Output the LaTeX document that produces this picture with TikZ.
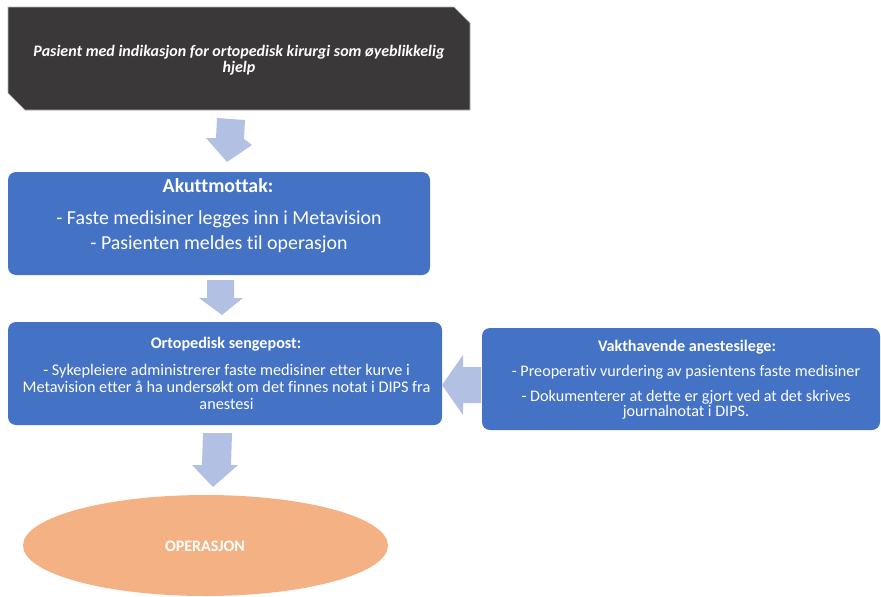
\documentclass[tikz,border=0pt]{standalone}
\usepackage{fontspec}
\setmainfont{Carlito}[Ligatures=NoCommon]
\usetikzlibrary{shapes.geometric}
\definecolor{darkbox}{RGB}{58,56,56}
\definecolor{bluebox}{RGB}{68,114,196}
\definecolor{arrowc}{RGB}{178,192,228}
\definecolor{orangeov}{RGB}{244,177,131}
\begin{document}
\begin{tikzpicture}[x=0.75pt,y=-0.75pt,
  bbox/.style={draw=none,fill=bluebox,rounded corners=6pt,inner sep=0pt},
  blockarrow/.style={fill=arrowc,draw=none},
  wtext/.style={text=white,anchor=base,inner sep=0pt},
  bigtxt/.style={font=\fontsize{14.9}{17}\selectfont},
  bigbold/.style={font=\fontsize{14.9}{17}\selectfont\bfseries},
  midtxt/.style={font=\fontsize{12.2}{14}\selectfont},
  vtxt/.style={font=\fontsize{12.1}{14}\selectfont},
  midbold/.style={font=\fontsize{12.1}{14}\selectfont\bfseries},
  toptxt/.style={font=\fontsize{12}{14}\selectfont\bfseries\itshape},
]
\useasboundingbox (0,0) rectangle (881,596);

% top chamfered box
\path[fill=darkbox,draw=gray!60,line width=0.4pt] (8,7) -- (454,7) -- (470,23) -- (470,110) -- (25,110) -- (8,93) -- cycle;
\node[wtext,toptxt] (t1) at (239,56.5) {Pasient med indikasjon for ortopedisk kirurgi som øyeblikkelig};
\node[wtext,toptxt] (t2) at (239,72.5) {hjelp};

% Akuttmottak box
\node[bbox,minimum width=316.5pt,minimum height=77.25pt] (akutt) at (219,223.5) {};
\node[wtext,bigbold] (a1) at (218,192.7) {Akuttmottak:};
\node[wtext,bigtxt] (a2) at (219,224) {- Faste medisiner legges inn i Metavision};
\node[wtext,bigtxt] (a3) at (219,249) {- Pasienten meldes til operasjon};

% Ortopedisk box
\node[bbox,minimum width=325.5pt,minimum height=77.25pt] (orto) at (225,373.5) {};
\node[wtext,midbold] (o1) at (226,348.3) {Ortopedisk sengepost:};
\node[wtext,midtxt] (o2) at (226.5,375) {- Sykepleiere administrerer faste medisiner etter kurve i};
\node[wtext,midtxt] (o3) at (226.5,392.5) {Metavision etter å ha undersøkt om det finnes notat i DIPS fra};
\node[wtext,midtxt] (o4) at (226.5,409) {anestesi};

% Vakthavende box
\node[bbox,minimum width=298.5pt,minimum height=76.5pt] (vakt) at (681,379) {};
\node[wtext,midbold] (v1) at (687,351) {Vakthavende anestesilege:};
\node[wtext,vtxt] (v2) at (686,376.7) {- Preoperativ vurdering av pasientens faste medisiner};
\node[wtext,vtxt] (v3) at (686,401.7) {- Dokumenterer at dette er gjort ved at det skrives};
\node[wtext,vtxt] (v4) at (686,416.7) {journalnotat i DIPS.};

% Operasjon ellipse
\node[ellipse,fill=orangeov,draw=none,minimum width=273.75pt,minimum height=75.75pt,inner sep=0pt] (op) at (205.5,545.5) {};
\node[wtext,font=\fontsize{12}{14}\selectfont\bfseries] (opt) at (205,551.7) {OPERASJON};

% block arrows
\path[blockarrow] (217,118) -- (245,120) -- (244,139) -- (252,145) -- (227,162) -- (206,138) -- (216,138) -- cycle;
\path[blockarrow] (207,280) -- (234,280) -- (234,298) -- (243,298) -- (222,315) -- (199,298) -- (207,298) -- cycle;
\path[blockarrow] (203,433) -- (232,433) -- (231,465) -- (238,465) -- (213,487) -- (192,465) -- (202,465) -- cycle;
\path[blockarrow] (481,367) -- (481,403) -- (463,403) -- (463,415) -- (442,385) -- (463,355) -- (463,367) -- cycle;
\end{tikzpicture}
\end{document}
